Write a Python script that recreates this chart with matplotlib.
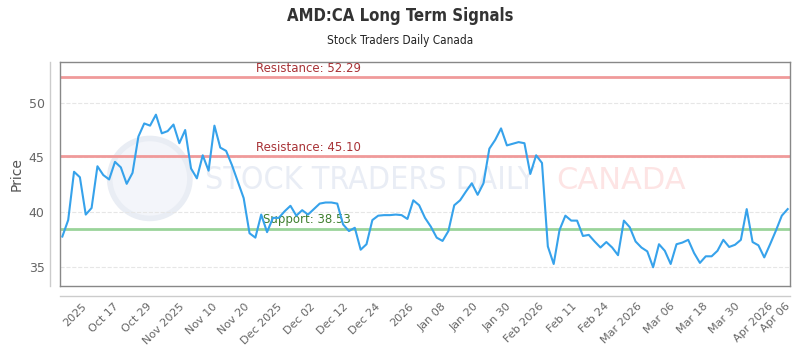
import matplotlib.pyplot as plt
from matplotlib.patches import Ellipse
import numpy as np

# Closing prices (one per trading day)
prices = [
    37.8, 39.3, 43.7, 43.2, 39.8, 40.4, 44.2, 43.4, 43.0, 44.6,
    44.1, 42.6, 43.6, 46.9, 48.1, 47.9, 48.9, 47.2, 47.4, 48.0,
    46.3, 47.5, 44.0, 43.1, 45.2, 43.8, 47.9, 45.9, 45.6, 44.3,
    42.8, 41.3, 38.1, 37.7, 39.8, 38.2, 39.5, 39.5, 40.1, 40.6,
    39.7, 40.2, 39.8, 40.3, 40.8, 40.9, 40.9, 40.8, 38.9, 38.3,
    38.6, 36.6, 37.1, 39.3, 39.7, 39.75, 39.75, 39.8, 39.75, 39.4,
    41.1, 40.65, 39.5, 38.7, 37.7, 37.4, 38.3, 40.65, 41.1, 41.9,
    42.65, 41.6, 42.65, 45.8, 46.6, 47.65, 46.1, 46.25, 46.4, 46.3,
    43.5, 45.2, 44.5, 36.9, 35.3, 38.4, 39.7, 39.25, 39.25, 37.85,
    37.95, 37.35, 36.8, 37.3, 36.8, 36.1, 39.25, 38.65, 37.35, 36.8,
    36.45, 35.0, 37.1, 36.5, 35.3, 37.1, 37.25, 37.5, 36.3, 35.4,
    36.0, 36.0, 36.5, 37.5, 36.85, 37.05, 37.5, 40.3, 37.3, 37.0,
    35.9, 37.1, 38.35, 39.7, 40.3,
]

resistance_levels = [52.29, 45.10]
support_levels = [38.53]

tick_labels = [
    '2025', 'Oct 17', 'Oct 29', 'Nov 2025', 'Nov 10', 'Nov 20',
    'Dec 2025', 'Dec 02', 'Dec 12', 'Dec 24', '2026', 'Jan 08',
    'Jan 20', 'Jan 30', 'Feb 2026', 'Feb 11', 'Feb 24', 'Mar 2026',
    'Mar 06', 'Mar 18', 'Mar 30', 'Apr 2026', 'Apr 06',
]

x = np.arange(len(prices))

fig = plt.figure(figsize=(8, 3.5), dpi=100)
ax = fig.add_axes([0.075, 0.183, 0.9125, 0.64])

# Watermark (logo ring + text)
ax.add_patch(Ellipse((0.123, 0.48), 0.11, 0.357, transform=ax.transAxes,
                     facecolor='#f3f5fa', edgecolor='#e9edf4', lw=4,
                     zorder=0))
ax.text(0.198, 0.47, 'STOCK TRADERS DAILY', transform=ax.transAxes,
        fontsize=23, color='#e9edf5', va='center', ha='left',
        fontstretch='condensed', zorder=0)
ax.text(0.68, 0.47, 'CANADA', transform=ax.transAxes,
        fontsize=22, color='#fde4e4', va='center', ha='left', zorder=0)

# Support / resistance
for r in resistance_levels:
    ax.axhline(r, color='#f09a9a', lw=2, zorder=2)
    ax.text(0.268, r + 0.25, f'Resistance: {r:.2f}', color='#a83236',
            fontsize=8.5, transform=ax.get_yaxis_transform(), va='bottom')
for s in support_levels:
    ax.axhline(s, color='#9ad49a', lw=2, zorder=2)
    ax.text(0.278, s + 0.25, f'Support: {s:.2f}', color='#3f7f2f',
            fontsize=8.5, transform=ax.get_yaxis_transform(), va='bottom')

ax.plot(x, prices, color='#36a2eb', lw=1.5, zorder=3)

ax.set_xlim(-0.4, len(prices) - 0.6)
ax.set_ylim(33.3, 53.7)

# x ticks roughly every 5.6 trading days, last one at the final point
tick_pos = list(3.2 + 5.59 * np.arange(len(tick_labels) - 1)) + [len(prices) - 1.5]
ax.set_xticks(tick_pos)
ax.set_xticklabels(tick_labels, rotation=45, ha='right',
                   rotation_mode='anchor')
ax.set_yticks([35, 40, 45, 50])

ax.tick_params(axis='x', length=0, pad=11, labelsize=8, labelcolor='#666666')
ax.tick_params(axis='y', length=0, pad=11, labelsize=9, labelcolor='#666666')
ax.grid(axis='y', color='#e6e6e6', linestyle='--', lw=0.8)
for sp in ax.spines.values():
    sp.set_color('#888888')
    sp.set_linewidth(1)

# offset axis borders
ax.plot([-0.0137, -0.0137], [0, 1], transform=ax.transAxes, color='#cccccc',
        lw=1, clip_on=False)
ax.plot([0, 1], [-0.045, -0.045], transform=ax.transAxes, color='#cccccc',
        lw=1, clip_on=False)

ax.set_ylabel('Price', fontsize=10, color='#555555', labelpad=4)

fig.text(0.5, 0.955, 'AMD:CA Long Term Signals', ha='center', va='center',
         fontsize=12, fontweight='bold', color='#333333',
         fontstretch='condensed')
fig.text(0.5, 0.885, 'Stock Traders Daily Canada', ha='center', va='center',
         fontsize=8.5, color='#222222', fontstretch='condensed')

fig.savefig('out.png', dpi=100)
